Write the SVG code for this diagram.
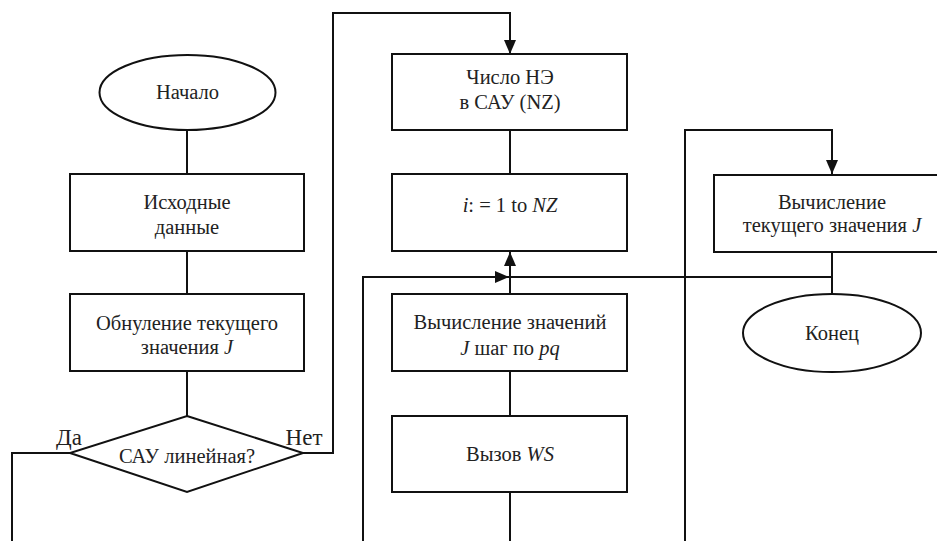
<svg xmlns="http://www.w3.org/2000/svg" width="937" height="541" viewBox="0 0 937 541">
<style>
.shape{fill:#fff;stroke:#111;stroke-width:2}
.ln{fill:none;stroke:#111;stroke-width:2}
.t{font-family:"Liberation Serif","Times New Roman",serif;font-size:20.5px;fill:#222;text-anchor:middle}
.big{font-size:23px}
.i{font-style:italic}
</style>
<defs>
<marker id="ah" markerUnits="userSpaceOnUse" markerWidth="14" markerHeight="12" refX="14" refY="6" orient="auto">
<path d="M0,0 L14,6 L0,12 z" fill="#111"/>
</marker>
</defs>
<rect width="937" height="541" fill="#fff"/>
<g id="connectors">
<path class="ln" d="M187 130 V174"/>
<path class="ln" d="M187 251 V294"/>
<path class="ln" d="M187 371 V416"/>
<path class="ln" d="M70 453 H12 V541"/>
<path class="ln" d="M303 453 H333 V13 H510 V54" marker-end="url(#ah)"/>
<path class="ln" d="M510 130 V174"/>
<path class="ln" d="M363 541 V277 H509" marker-end="url(#ah)"/>
<path class="ln" d="M510 294 V252" marker-end="url(#ah)"/>
<path class="ln" d="M510 277 H832"/>
<path class="ln" d="M510 371 V416"/>
<path class="ln" d="M510 492 V541"/>
<path class="ln" d="M685 541 V130 H832 V174" marker-end="url(#ah)"/>
<path class="ln" d="M832 252 V294"/>
</g>
<g id="start">
<ellipse class="shape" cx="187.5" cy="92.5" rx="88" ry="37.5"/>
<text class="t" x="187.5" y="99">Начало</text>
</g>
<g id="input">
<rect class="shape" x="70" y="174" width="234" height="77"/>
<text class="t" x="187" y="209">Исходные</text>
<text class="t" x="187" y="234">данные</text>
</g>
<g id="reset">
<rect class="shape" x="70" y="294" width="234" height="77"/>
<text class="t" x="187" y="330">Обнуление текущего</text>
<text class="t" x="187" y="354">значения <tspan class="i">J</tspan></text>
</g>
<g id="decision">
<polygon class="shape" points="187,416 303,453 187,492 70,453"/>
<text class="t" x="187" y="463">САУ линейная?</text>
<text class="t big" x="69" y="445">Да</text>
<text class="t big" x="304" y="445">Нет</text>
</g>
<g id="count">
<rect class="shape" x="392" y="54" width="235" height="76"/>
<text class="t" x="510" y="84">Число НЭ</text>
<text class="t" x="510" y="109">в САУ (NZ)</text>
</g>
<g id="loop">
<rect class="shape" x="392" y="174" width="235" height="77"/>
<text class="t" x="510" y="212"><tspan class="i">i</tspan>: = 1 to <tspan class="i">NZ</tspan></text>
</g>
<g id="calc">
<rect class="shape" x="392" y="294" width="235" height="77"/>
<text class="t" x="510" y="329">Вычисление значений</text>
<text class="t" x="510" y="355"><tspan class="i">J</tspan> шаг по <tspan class="i">pq</tspan></text>
</g>
<g id="call">
<rect class="shape" x="392" y="416" width="235" height="76"/>
<text class="t" x="510" y="461">Вызов <tspan class="i">WS</tspan></text>
</g>
<g id="current">
<rect class="shape" x="714" y="175" width="240" height="77"/>
<text class="t" x="832" y="209">Вычисление</text>
<text class="t" x="832" y="232">текущего значения <tspan class="i">J</tspan></text>
</g>
<g id="end">
<ellipse class="shape" cx="832" cy="333" rx="89" ry="39"/>
<text class="t" x="832" y="340">Конец</text>
</g>
</svg>
